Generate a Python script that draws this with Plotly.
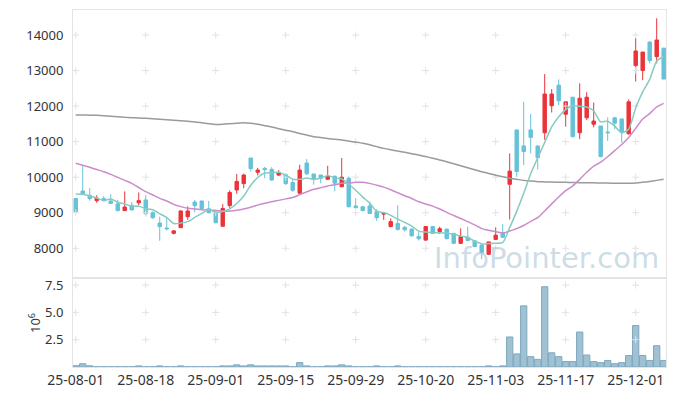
import plotly.graph_objects as go
import pandas as pd

dates = (
    ["25-08-01", "25-08-04", "25-08-05", "25-08-06", "25-08-07", "25-08-08",
     "25-08-11", "25-08-12", "25-08-13", "25-08-14", "25-08-18", "25-08-19",
     "25-08-20", "25-08-21", "25-08-22", "25-08-25", "25-08-26", "25-08-27",
     "25-08-28", "25-08-29"]
    + ["25-09-01", "25-09-02", "25-09-03", "25-09-04", "25-09-05", "25-09-08",
       "25-09-09", "25-09-10", "25-09-11", "25-09-12", "25-09-15", "25-09-16",
       "25-09-17", "25-09-18", "25-09-19", "25-09-22", "25-09-23", "25-09-24",
       "25-09-25", "25-09-26", "25-09-29", "25-09-30"]
    + ["25-10-01", "25-10-02", "25-10-10", "25-10-13", "25-10-14", "25-10-15",
       "25-10-16", "25-10-17", "25-10-20", "25-10-21", "25-10-22", "25-10-23",
       "25-10-24", "25-10-27", "25-10-28", "25-10-29", "25-10-30", "25-10-31"]
    + ["25-11-03", "25-11-04", "25-11-05", "25-11-06", "25-11-07", "25-11-10",
       "25-11-11", "25-11-12", "25-11-13", "25-11-14", "25-11-17", "25-11-18",
       "25-11-19", "25-11-20", "25-11-21", "25-11-24", "25-11-25", "25-11-26",
       "25-11-27", "25-11-28"]
    + ["25-12-01", "25-12-02", "25-12-03", "25-12-04", "25-12-05"]
)

open_ = [9400, 9610, 9490, 9340, 9400, 9330, 9250, 9060, 9210, 9280,
         9360, 9000, 8710, 8570, 8420, 8580, 8890, 9300, 9330, 9110,
         8990, 8620, 9200, 9640, 9820, 10540, 10140, 10250, 10220, 10060,
         10070, 9850, 9550, 10400, 10090, 10060, 9940, 10030, 9730, 9970,
         9190, 9170, 9190, 9030, 8960, 8610, 8700, 8590, 8540, 8330,
         8230, 8610, 8470, 8540, 8420, 8140, 8310, 8210, 8090, 7830,
         8250, 8440, 9800, 11330, 10880, 11330, 10880, 11250, 12010, 12590,
         11770, 12250, 11250, 11670, 11490, 11440, 11270, 11670, 11640, 11220,
         13140, 13000, 13800, 13390, 13630]
high = [9410, 10310, 9690, 9490, 9470, 9520, 9360, 9600, 9300, 9570,
        9490, 9040, 8890, 8870, 8500, 9070, 9180, 9360, 9340, 9330,
        9000, 9240, 9630, 10090, 10100, 10540, 10260, 10290, 10280, 10200,
        10110, 9920, 10350, 10510, 10090, 10060, 10320, 10030, 10540, 10020,
        9410, 9190, 9310, 9100, 9000, 8840, 9210, 8630, 8560, 8490,
        8630, 8630, 8610, 8540, 8420, 8560, 8610, 8210, 8140, 8180,
        8590, 8680, 10670, 11330, 12120, 11780, 10880, 12900, 12480, 12750,
        12120, 12250, 12640, 12390, 12100, 11440, 11680, 11700, 11640, 12190,
        13910, 13520, 13830, 14470, 13630]
low = [9020, 9510, 9340, 9280, 9320, 9240, 9040, 9050, 9060, 9210,
       8900, 8830, 8210, 8500, 8390, 8580, 8800, 9010, 9110, 8980,
       8700, 8610, 9140, 9530, 9690, 10160, 10050, 9970, 9900, 10030,
       9780, 9590, 9530, 10060, 9790, 9830, 9920, 9600, 9730, 9150,
       9130, 9040, 8970, 8770, 8800, 8590, 8500, 8470, 8330, 8220,
       8210, 8400, 8400, 8250, 8120, 8120, 8210, 8030, 7690, 7810,
       8230, 8300, 8810, 10010, 10340, 10670, 10220, 11050, 11820, 12030,
       11420, 11120, 11070, 11610, 11400, 10560, 11020, 11350, 10970, 11200,
       12690, 12730, 13200, 13200, 12760]
close = [9030, 9530, 9400, 9410, 9340, 9260, 9060, 9160, 9080, 9340,
         8970, 8860, 8610, 8550, 8490, 9050, 9050, 9200, 9120, 9000,
         8720, 9120, 9570, 9880, 10060, 10240, 10200, 10210, 9920, 10130,
         9820, 9630, 10200, 10100, 9950, 9970, 10030, 9830, 10000, 9170,
         9140, 9060, 8980, 8860, 8980, 8750, 8530, 8520, 8350, 8270,
         8610, 8420, 8550, 8270, 8140, 8330, 8220, 8050, 7880, 8180,
         8370, 8310, 10170, 10160, 10720, 11120, 10550, 12340, 12340, 12150,
         12120, 11140, 12220, 12250, 11580, 10580, 11250, 11520, 11280, 12120,
         13550, 13520, 13280, 13860, 12760]
volume = [120000, 300000, 110000, 20000, 20000, 20000, 20000, 20000, 20000, 100000,
          20000, 20000, 100000, 20000, 20000, 100000, 20000, 20000, 20000, 20000,
          20000, 100000, 100000, 200000, 100000, 200000, 100000, 100000, 100000, 100000,
          100000, 20000, 400000, 100000, 20000, 20000, 100000, 100000, 200000, 100000,
          20000, 20000, 20000, 100000, 20000, 20000, 100000, 20000, 20000, 20000,
          20000, 20000, 20000, 20000, 20000, 20000, 20000, 20000, 20000, 100000,
          20000, 100000, 2750000, 1200000, 5600000, 950000, 700000, 7350000, 1300000, 950000,
          500000, 500000, 3200000, 1100000, 500000, 400000, 600000, 300000, 400000, 1050000,
          3800000, 1050000, 600000, 1950000, 600000]

# moving-average values before enough in-window closes exist
ma5_head = [9527, 9517, 9470, 9414]
ma20_head = [10390, 10335, 10277, 10215, 10155, 10080, 9996, 9910, 9827, 9710,
             9593, 9500, 9405, 9330, 9236, 9171, 9124, 9105, 9086]
ma120 = [11750, 11748, 11745, 11740, 11730, 11715, 11700, 11685, 11675, 11665,
         11655, 11642, 11629, 11615, 11600, 11585, 11570, 11555, 11530, 11505,
         11485, 11490, 11505, 11520, 11530, 11515, 11490, 11450, 11410, 11365,
         11320, 11280, 11230, 11185, 11140, 11115, 11090, 11065, 11045, 11015,
         10985, 10955, 10910, 10860, 10810, 10770, 10735, 10700, 10660, 10625,
         10580, 10535, 10485, 10435, 10380, 10320, 10265, 10210, 10155, 10105,
         10055, 10010, 9970, 9940, 9910, 9890, 9875, 9868, 9862, 9858,
         9854, 9850, 9846, 9843, 9840, 9837, 9834, 9831, 9829, 9827,
         9835, 9855, 9880, 9910, 9940]

tick_idx = [0, 10, 20, 30, 40, 50, 60, 70, 80]
price_ticks = [8000, 9000, 10000, 11000, 12000, 13000, 14000]
price_labels = ["8000", "9000", "10000", "11000", "12000", "13000", "14000"]
vol_ticks = [2.5, 5.0, 7.5]
vol_labels = ["2.5", "5.0", "7.5"]

n = len(close)
idx = list(range(n))
cs = pd.Series(close, dtype=float)
ma5 = ma5_head + cs.rolling(5).mean().tolist()[len(ma5_head):]
ma20 = ma20_head + cs.rolling(20).mean().tolist()[len(ma20_head):]
vol_m = [v / 1e6 for v in volume]

UP = "#eb333b"
DOWN = "#66c2d9"
GRID = "#e2e2e2"
FRAME = "#e4e4e4"
FONT = "Noto Sans"

fig = go.Figure()

# grid crosses
gx, gy = [], []
for t in tick_idx:
    for p in price_ticks:
        gx.append(t); gy.append(p)
fig.add_trace(go.Scatter(x=gx, y=gy, mode="markers", xaxis="x", yaxis="y",
                         marker=dict(symbol="cross-thin", size=5,
                                     line=dict(color=GRID, width=1)),
                         hoverinfo="skip", showlegend=False))
vx, vy = [], []
for t in tick_idx:
    for p in vol_ticks:
        vx.append(t); vy.append(p)
fig.add_trace(go.Scatter(x=vx, y=vy, mode="markers", xaxis="x2", yaxis="y2",
                         marker=dict(symbol="cross-thin", size=5,
                                     line=dict(color=GRID, width=1)),
                         hoverinfo="skip", showlegend=False))

fig.add_trace(go.Scatter(x=idx, y=ma120, mode="lines", xaxis="x", yaxis="y",
                         line=dict(color="#9a9a9a", width=1.5, shape="spline", smoothing=0.6),
                         showlegend=False))
fig.add_trace(go.Scatter(x=idx, y=ma20, mode="lines", xaxis="x", yaxis="y",
                         line=dict(color="#cc8ccb", width=1.5, shape="spline", smoothing=0.6),
                         showlegend=False))
fig.add_trace(go.Scatter(x=idx, y=ma5, mode="lines", xaxis="x", yaxis="y",
                         line=dict(color="#86cbc2", width=1.5, shape="spline", smoothing=0.6),
                         showlegend=False))

fig.add_trace(go.Candlestick(
    x=idx, open=open_, high=high, low=low, close=close, xaxis="x", yaxis="y",
    increasing=dict(line=dict(color=UP, width=1), fillcolor=UP),
    decreasing=dict(line=dict(color=DOWN, width=1), fillcolor=DOWN),
    whiskerwidth=0, showlegend=False))

fig.add_trace(go.Bar(x=idx, y=vol_m, xaxis="x2", yaxis="y2",
                     marker=dict(color="#9fc1d2", line=dict(color="#7fa8bf", width=1)),
                     showlegend=False))

xr = [-0.39, 84.33]
fig.update_layout(
    width=677, height=396,
    margin=dict(l=73, r=11, t=10, b=29, autoexpand=False),
    paper_bgcolor="white", plot_bgcolor="white",
    font=dict(family=FONT, size=13, color="#333333"),
    bargap=0.1,
    xaxis=dict(domain=[0, 1], range=xr, anchor="y", showticklabels=False,
               showgrid=False, zeroline=False, rangeslider=dict(visible=False),
               showline=True, linecolor=FRAME, mirror=True, ticks="",
               automargin=False),
    yaxis=dict(domain=[0.2493, 1], range=[7164, 14703], tickvals=price_ticks,
               ticktext=price_labels,
               showgrid=False, zeroline=False, showline=True, linecolor=FRAME,
               mirror=True, ticks="", ticklabelstandoff=6, automargin=False,
               tickfont=dict(size=13, color="#333333")),
    xaxis2=dict(domain=[0, 1], range=xr, anchor="y2", tickvals=tick_idx,
                ticktext=[dates[i] for i in tick_idx], showgrid=False,
                zeroline=False, showline=True, linecolor=FRAME, mirror=True,
                ticks="", automargin=False, tickfont=dict(size=14, color="#333333")),
    yaxis2=dict(domain=[0, 0.2493], range=[0, 8.15], tickvals=vol_ticks,
                ticktext=vol_labels, showgrid=False, zeroline=False,
                showline=True, linecolor=FRAME, mirror=True, ticks="",
                ticklabelstandoff=6, automargin=False,
                tickfont=dict(size=13, color="#333333")),
    annotations=[
        dict(text="10<sup>6</sup>", xref="paper", yref="paper",
             x=(34 - 73) / 593, y=(367 - 323) / 357, textangle=-90,
             xanchor="center", yanchor="middle",
             showarrow=False, font=dict(size=13, color="#333333")),
        dict(text="InfoPointer.com", xref="paper", yref="paper",
             x=(661 - 73) / 593, y=(367 - 258) / 357, xanchor="right",
             yanchor="middle", showarrow=False,
             font=dict(family="DejaVu Sans", size=29, color="rgba(170,198,214,0.6)")),
    ],
)

fig.write_html("out.html", config={"displayModeBar": False},
               post_script="document.body.style.margin='0';document.body.style.padding='0';")
